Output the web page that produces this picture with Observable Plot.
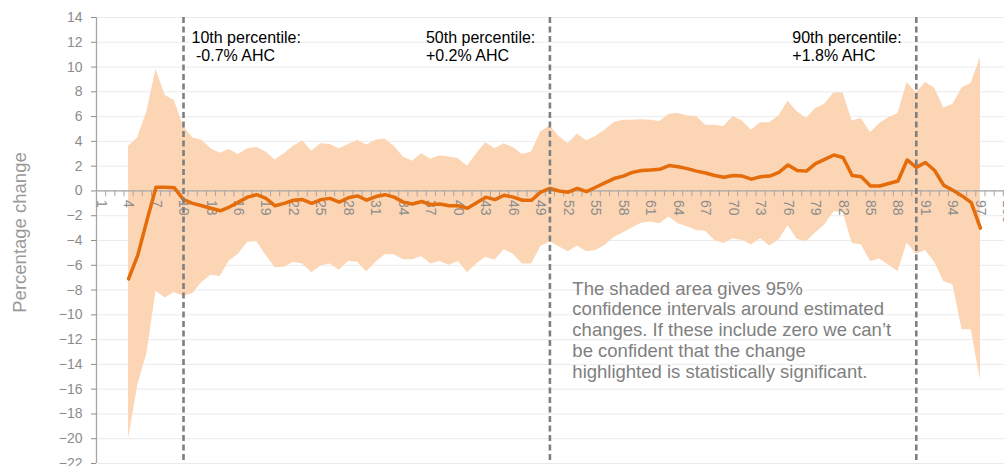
<!DOCTYPE html>
<html>
<head>
<meta charset="utf-8">
<script src="https://cdn.jsdelivr.net/npm/d3@7"></script>
<script src="https://cdn.jsdelivr.net/npm/@observablehq/plot@0.6"></script>
<style>
  html, body { margin: 0; padding: 0; background: #fff; overflow: hidden; }
  #chart svg { display: block; }
</style>
</head>
<body>
<div id="chart"></div>
<script>
// Percentile categories with data
const categories = d3.range(4, 98);
// Estimated percentage change (orange line)
const estimate = [
  -7.1, -5.2, -2.4, 0.3, 0.3, 0.25, -0.7, -1.0, -1.2, -1.4,
  -1.6, -1.3, -0.9, -0.5, -0.3, -0.6, -1.2, -1.0, -0.75, -0.7,
  -1.0, -0.7, -0.6, -0.9, -0.55, -0.4, -0.75, -0.45, -0.3, -0.5,
  -0.9, -1.05, -0.85, -1.1, -1.05, -1.2, -1.2, -1.4, -0.95, -0.5,
  -0.7, -0.35, -0.5, -0.75, -0.75, -0.1, 0.2, 0.0, -0.1, 0.2,
  -0.05, 0.3, 0.65, 1.0, 1.2, 1.5, 1.65, 1.7, 1.75, 2.05,
  1.95, 1.8, 1.6, 1.45, 1.25, 1.1, 1.25, 1.2, 0.95, 1.15,
  1.2, 1.5, 2.1, 1.65, 1.6, 2.2, 2.55, 2.9, 2.7, 1.25,
  1.15, 0.4, 0.4, 0.6, 0.8, 2.5, 1.9, 2.3, 1.65, 0.45,
  0.05, -0.4, -0.95, -3.0
];
// Upper bound of 95% confidence interval
const upper = [
  3.6, 4.3, 6.4, 9.8, 7.7, 7.3, 5.2, 4.3, 4.1, 3.4,
  3.05, 3.35, 2.95, 3.4, 3.5, 3.15, 2.5, 3.0, 3.6, 4.05,
  3.2, 3.8, 3.75, 3.4, 3.75, 4.1, 3.7, 4.1, 4.2, 3.6,
  2.75, 2.4, 3.0, 2.55, 2.85, 2.75, 2.6, 2.0, 3.0, 3.9,
  3.4, 3.8, 3.5, 2.95, 3.15, 4.75, 5.25, 4.4, 3.8, 4.6,
  4.05, 4.4, 4.9, 5.5, 5.7, 5.7, 5.75, 5.7, 5.6, 6.2,
  6.25, 6.05, 6.0, 5.3, 5.3, 5.2, 6.0, 5.65, 4.9, 5.5,
  5.5, 6.05, 7.25, 6.4, 5.85, 6.65, 7.0, 7.9, 7.9, 5.65,
  5.85, 4.7, 5.45, 5.9, 6.25, 8.75, 7.9, 8.75, 8.3, 6.7,
  7.0, 8.3, 8.7, 10.8
];
// Lower bound of 95% confidence interval
const lower = [
  -20.0, -15.7, -13.15, -8.1, -8.65, -8.2, -8.5, -8.3, -7.4, -6.8,
  -6.9, -5.65, -5.1, -4.15, -4.1, -5.2, -6.2, -6.15, -5.75, -5.9,
  -6.6, -6.05, -5.9, -6.4, -5.7, -5.75, -6.55, -5.75, -5.15, -5.15,
  -5.55, -5.55, -5.3, -5.9, -5.7, -6.0, -5.7, -6.6, -5.9, -5.35,
  -5.6, -4.75, -5.1, -5.9, -5.9, -4.5, -4.1, -4.5, -4.9, -4.45,
  -4.9, -4.8, -4.4, -3.75, -3.4, -3.0, -2.6, -2.5, -2.65, -2.1,
  -2.65, -2.9, -3.2, -3.25, -4.0, -4.25, -3.85, -4.0, -4.35, -3.85,
  -4.45, -3.95, -2.8, -3.9, -4.1, -3.4, -2.75, -1.7, -1.7, -4.25,
  -4.35, -5.7, -5.5, -6.0, -6.5, -4.2, -5.1, -4.8, -5.75, -7.3,
  -7.6, -11.2, -11.2, -15.25
];
// Axis ticks and labels
const xTickLabels = d3.range(1, 101, 3);
const xTickMarks = d3.range(0.5, 101, 1);
const yTicks = d3.range(-22, 15, 2);
// Percentile markers
const percentiles = [10, 50, 90];
const percentileLabels = [
  "10th percentile:\n\u00a0-0.7% AHC",
  "50th percentile:\n+0.2% AHC",
  "90th percentile:\n+1.8% AHC"
];
const noteText = "The shaded area gives 95%\nconfidence intervals around estimated\nchanges. If these include zero we can\u2019t\nbe confident that the change\nhighlighted is statistically significant.";
const yTitle = "Percentage change";

const data = categories.map((c, i) => ({c, est: estimate[i], lo: lower[i], hi: upper[i]}));
const annotations = percentiles.map((p, i) => ({p, label: percentileLabels[i]}));

const gray = "#8c8c8c";
const axisGray = "#a6a6a6";

const tickShape = {
  draw(context, l) { context.moveTo(0, 0); context.lineTo(0, -l); }
};

const chart = Plot.plot({
  width: 1004,
  height: 466,
  marginLeft: 96,
  marginRight: 0,
  marginTop: 17,
  marginBottom: 3,
  x: {domain: [0.5, 99.63], axis: null},
  y: {domain: [-22, 14]},
  style: {fontFamily: "'Liberation Sans', Arial, sans-serif", background: "#fff", overflow: "hidden"},
  marks: [
    Plot.gridY(yTicks, {stroke: "#ebebeb", strokeOpacity: 1}),
    Plot.areaY(data, {x: "c", y1: "lo", y2: "hi", fill: "#fcd5b5", curve: "linear"}),
    Plot.ruleY([0], {stroke: axisGray, strokeWidth: 1.3}),
    Plot.vector(xTickMarks, {x: d => d, y: 0, length: 5, rotate: 180, anchor: "start", shape: tickShape, stroke: axisGray, strokeWidth: 1}),
    Plot.text(xTickLabels, {x: d => d, y: 0, text: d => String(d), rotate: 90, textAnchor: "start", dy: 9, fontSize: 14, fill: gray}),
    Plot.ruleX([0.5], {stroke: axisGray, strokeWidth: 1.3}),
    Plot.axisY({ticks: yTicks, tickSize: 5, tickPadding: 9, fontSize: 14, color: gray, label: null}),
    Plot.lineY(data, {x: "c", y: "est", stroke: "#e46c0a", strokeWidth: 3.5, strokeLinejoin: "round"}),
    Plot.ruleX(percentiles, {stroke: "#7f7f7f", strokeWidth: 2.6, strokeDasharray: "6,3.5"}),
    Plot.text(annotations.slice(0, 1), {x: "p", y: 13, text: "label", textAnchor: "start", lineAnchor: "top", dx: 8, fontSize: 16, lineHeight: 1.13, fill: "#000"}),
    Plot.text(annotations.slice(1), {x: "p", y: 13, text: "label", textAnchor: "start", lineAnchor: "top", dx: -124, fontSize: 16, lineHeight: 1.13, fill: "#000"}),
    Plot.text([noteText], {x: 52.45, y: -7.19, text: d => d, textAnchor: "start", lineAnchor: "top", fontSize: 18.5, lineHeight: 1.12, fill: "#808080"}),
    Plot.text([yTitle], {frameAnchor: "left", text: d => d, rotate: -90, textAnchor: "middle", lineAnchor: "middle", dx: -76, dy: -8, fontSize: 18.5, fill: "#999"})
  ]
});
document.getElementById("chart").appendChild(chart);
</script>
</body>
</html>
